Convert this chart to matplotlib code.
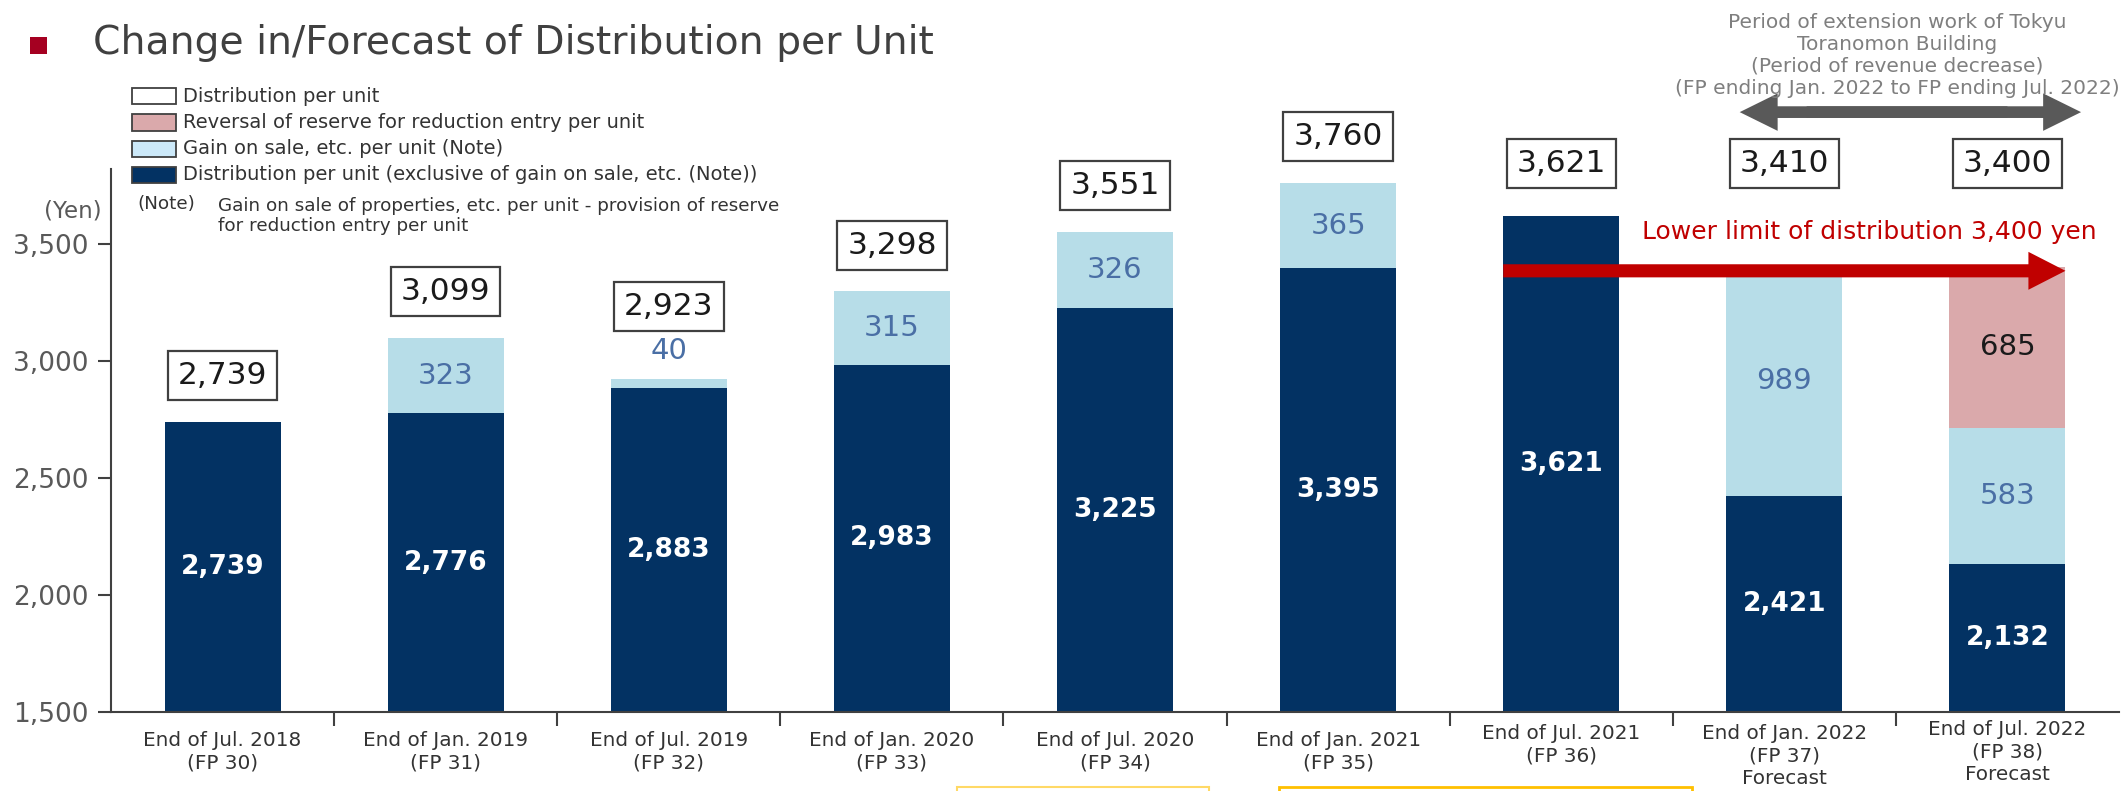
import numpy as np
import matplotlib
matplotlib.use("Agg")
import matplotlib.pyplot as plt
import matplotlib.transforms as mtransforms
from matplotlib.patches import Rectangle, FancyArrow

# ---------------------------------------------------------------
# data
# ---------------------------------------------------------------
periods = [
    "End of Jul. 2018\n(FP 30)", "End of Jan. 2019\n(FP 31)", "End of Jul. 2019\n(FP 32)",
    "End of Jan. 2020\n(FP 33)", "End of Jul. 2020\n(FP 34)", "End of Jan. 2021\n(FP 35)",
    "End of Jul. 2021\n(FP 36)", "End of Jan. 2022\n(FP 37)\nForecast",
    "End of Jul. 2022\n(FP 38)\nForecast",
]
dist_ex_gain = [2739, 2776, 2883, 2983, 3225, 3395, 3621, 2421, 2132]
gain_on_sale = [0, 323, 40, 315, 326, 365, 0, 989, 583]
reserve_reversal = [0, 0, 0, 0, 0, 0, 0, 0, 685]
dist_total = [2739, 3099, 2923, 3298, 3551, 3760, 3621, 3410, 3400]
lower_limit = 3400

NAVY = "#033263"
LIGHT = "#b7dde8"
PINK = "#daa9ab"
RED = "#c00000"
GRAY = "#595959"
TXT = "#333333"

W, H = 2123, 791
fig = plt.figure(figsize=(W / 100, H / 100), dpi=100)
ax = fig.add_axes([111 / W, 1 - 712 / H, (2119 - 111) / W, (712 - 169) / H])


def fx(x):
    return x / W


def fy(y):
    return 1 - y / H


x = np.arange(len(periods))
bw = 0.52
ax.bar(x, dist_ex_gain, bw, color=NAVY, zorder=2)
ax.bar(x, gain_on_sale, bw, bottom=dist_ex_gain, color=LIGHT, zorder=2)
bottom2 = np.array(dist_ex_gain) + np.array(gain_on_sale)
ax.bar(x, reserve_reversal, bw, bottom=bottom2, color=PINK, zorder=2)

ax.set_xlim(-0.5, len(periods) - 0.5)
ax.set_ylim(1500, 3820)

# axes styling
for s in ["top", "right"]:
    ax.spines[s].set_visible(False)
for s in ["left", "bottom"]:
    ax.spines[s].set_color("#404040")
    ax.spines[s].set_linewidth(1.5)
ax.set_yticks([1500, 2000, 2500, 3000, 3500])
ax.set_yticklabels(["1,500", "2,000", "2,500", "3,000", "3,500"])
ax.tick_params(axis="y", direction="out", length=9.5, width=1.5, color="#404040",
               labelsize=19, labelcolor=GRAY, pad=6.5)
ax.set_xticks(np.arange(len(periods) - 1) + 0.5)
ax.set_xticklabels([])
ax.tick_params(axis="x", direction="out", length=10, width=1.5, color="#404040")

# category labels under the axis
xfig = mtransforms.blended_transform_factory(ax.transData, fig.transFigure)
label_tops = [731, 731, 731, 731, 731, 731, 724, 724, 720]
for i, lab in enumerate(periods):
    ax.text(i, fy(label_tops[i]), lab, transform=xfig, ha="center", va="top",
            fontsize=14.4, color=TXT, linespacing=1.25)

# values inside / above the bars
box_y = []
for i in range(len(periods)):
    ax.text(i, (dist_ex_gain[i] + 1500) / 2, f"{dist_ex_gain[i]:,}", ha="center", va="center",
            color="white", fontsize=19, fontweight="bold", zorder=3)
    top = dist_total[i] + 197
    g = gain_on_sale[i]
    if g > 0:
        if g < 100:
            ly = dist_ex_gain[i] + g + 120
            top = ly + 190
        else:
            ly = dist_ex_gain[i] + g / 2
        ax.text(i, ly, f"{g:,}", ha="center", va="center",
                color="#4a6fa5", fontsize=21, zorder=3)
    r = reserve_reversal[i]
    if r > 0:
        ax.text(i, bottom2[i] + r / 2, f"{r:,}", ha="center", va="center",
                color="#1a1a1a", fontsize=21, zorder=3)
    box_y.append(top if i < 6 else 3845)

# boxed totals
for i, t in enumerate(dist_total):
    ax.text(i, box_y[i], f"{t:,}", ha="center", va="center", fontsize=22.5, color="#1a1a1a",
            zorder=4, clip_on=False,
            bbox=dict(boxstyle="square,pad=0.32", fc="white", ec="#404040", lw=1.6))

# lower limit arrow
ax.add_patch(FancyArrow(6 - bw / 2, 3385, 2 + bw, 0, width=56, head_width=162,
                        head_length=0.166, length_includes_head=True,
                        color=RED, lw=0, zorder=5, clip_on=False))
ax.text(8.40, 3552, f"Lower limit of distribution {lower_limit:,} yen", ha="right",
        va="center", fontsize=18, color=RED, zorder=5)

# extension work period arrow (two overlapping halves)
left_tip, right_tip = 6.80, 8.33
ax.add_patch(FancyArrow(8.0, 4063, left_tip - 8.0, 0, width=50, head_width=160,
                        head_length=0.17, length_includes_head=True,
                        color=GRAY, lw=0, zorder=5, clip_on=False))
ax.add_patch(FancyArrow(7.1, 4063, right_tip - 7.1, 0, width=50, head_width=160,
                        head_length=0.17, length_includes_head=True,
                        color=GRAY, lw=0, zorder=5, clip_on=False))
fig.text(fx(1897), fy(55), "Period of extension work of Tokyu\nToranomon Building\n"
         "(Period of revenue decrease)\n(FP ending Jan. 2022 to FP ending Jul. 2022)",
         ha="center", va="center", fontsize=14.5, color="#7f7f7f", linespacing=1.2)

# title
fig.patches.append(Rectangle((fx(30), fy(54)), 17 / W, 17 / H, transform=fig.transFigure,
                             fc="#a50021", ec="none", figure=fig))
fig.text(fx(93), fy(43), "Change in/Forecast of Distribution per Unit", ha="left",
         va="center", fontsize=28.3, color="#404040")

# legend
leg_items = [
    ("white", "Distribution per unit"),
    (PINK, "Reversal of reserve for reduction entry per unit"),
    ("#cce9f9", "Gain on sale, etc. per unit (Note)"),
    (NAVY, "Distribution per unit (exclusive of gain on sale, etc. (Note))"),
]
rows = [96, 122.5, 149, 175]
for (c, txt), ry in zip(leg_items, rows):
    fig.patches.append(Rectangle((fx(132), fy(ry + 8)), 44 / W, 16 / H,
                                 transform=fig.transFigure, fc=c, ec="#404040",
                                 lw=1.3, figure=fig))
    fig.text(fx(183), fy(ry), txt, ha="left", va="center", fontsize=14, color=TXT)
fig.text(fx(137), fy(204), "(Note)", ha="left", va="center", fontsize=13.2, color=TXT)
fig.text(fx(218), fy(216), "Gain on sale of properties, etc. per unit - provision of reserve\n"
         "for reduction entry per unit", ha="left", va="center", fontsize=13.2,
         color=TXT, linespacing=1.15)
fig.text(fx(102), fy(211), "(Yen)", ha="right", va="center", fontsize=16.5, color=GRAY)

# partly visible boxes at the bottom edge
fig.patches.append(Rectangle((fx(957), fy(795)), 252 / W, 8 / H, transform=fig.transFigure,
                             fc="none", ec="#ffd966", lw=1.5, figure=fig))
fig.patches.append(Rectangle((fx(1279), fy(795)), 413 / W, 8 / H, transform=fig.transFigure,
                             fc="none", ec="#ffc000", lw=2, figure=fig))

fig.savefig("out.png", dpi=100)
